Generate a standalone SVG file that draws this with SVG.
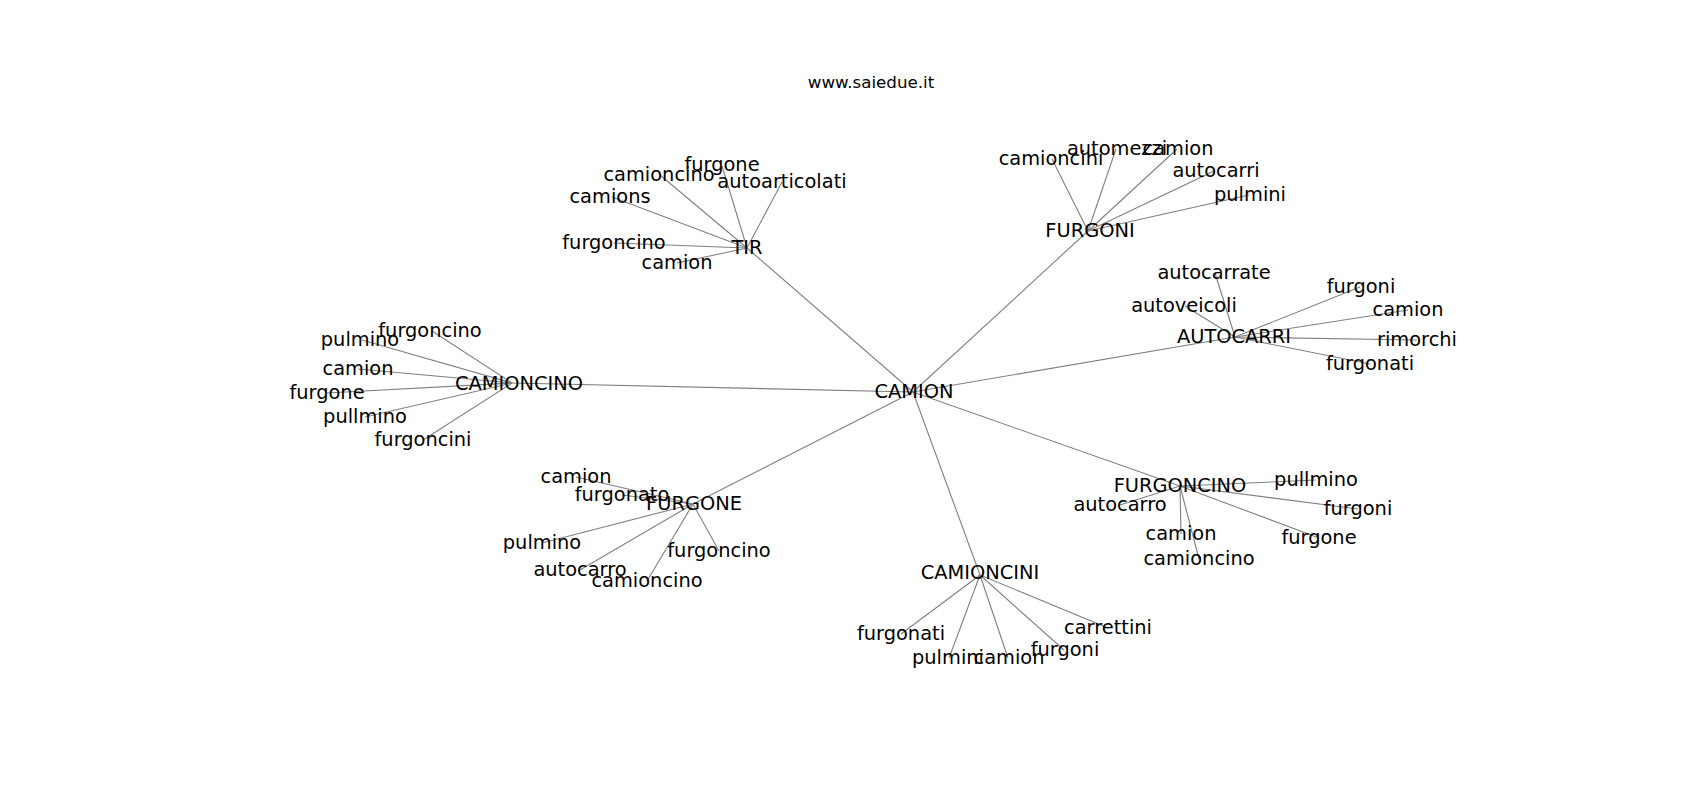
<svg xmlns="http://www.w3.org/2000/svg" width="1700" height="800" viewBox="0 0 1700 800">
<style>
text{font-family:"DejaVu Sans","Liberation Sans",sans-serif;fill:#000;text-anchor:middle}
.n text{font-size:19.4px}
.t{font-size:16.7px}
#edges line{stroke:#808080;stroke-width:1.1}
</style>
<rect width="1700" height="800" fill="#fff"/>
<text class="t" x="871" y="88">www.saiedue.it</text>
<g id="edges">
<line x1="913" y1="392" x2="747" y2="248"/>
<line x1="913" y1="392" x2="1088" y2="231"/>
<line x1="913" y1="392" x2="1235" y2="337"/>
<line x1="913" y1="392" x2="512" y2="383"/>
<line x1="913" y1="392" x2="693" y2="504"/>
<line x1="913" y1="392" x2="980" y2="575"/>
<line x1="913" y1="392" x2="1180" y2="486"/>
<line x1="747" y1="248" x2="722" y2="166"/>
<line x1="747" y1="248" x2="660" y2="175"/>
<line x1="747" y1="248" x2="782" y2="182"/>
<line x1="747" y1="248" x2="612" y2="197"/>
<line x1="747" y1="248" x2="614" y2="243"/>
<line x1="747" y1="248" x2="677" y2="263"/>
<line x1="1088" y1="231" x2="1052" y2="159"/>
<line x1="1088" y1="231" x2="1116" y2="149"/>
<line x1="1088" y1="231" x2="1177" y2="149"/>
<line x1="1088" y1="231" x2="1214" y2="171"/>
<line x1="1088" y1="231" x2="1249" y2="195"/>
<line x1="1235" y1="337" x2="1215" y2="273"/>
<line x1="1235" y1="337" x2="1185" y2="306"/>
<line x1="1235" y1="337" x2="1360" y2="287"/>
<line x1="1235" y1="337" x2="1408" y2="310"/>
<line x1="1235" y1="337" x2="1417" y2="340"/>
<line x1="1235" y1="337" x2="1370" y2="364"/>
<line x1="512" y1="383" x2="432" y2="331"/>
<line x1="512" y1="383" x2="362" y2="340"/>
<line x1="512" y1="383" x2="358" y2="369"/>
<line x1="512" y1="383" x2="327" y2="393"/>
<line x1="512" y1="383" x2="365" y2="417"/>
<line x1="512" y1="383" x2="423" y2="440"/>
<line x1="693" y1="504" x2="576" y2="477"/>
<line x1="693" y1="504" x2="622" y2="495"/>
<line x1="693" y1="504" x2="542" y2="543"/>
<line x1="693" y1="504" x2="580" y2="570"/>
<line x1="693" y1="504" x2="647" y2="581"/>
<line x1="693" y1="504" x2="719" y2="551"/>
<line x1="980" y1="575" x2="901" y2="634"/>
<line x1="980" y1="575" x2="949" y2="658"/>
<line x1="980" y1="575" x2="1008" y2="658"/>
<line x1="980" y1="575" x2="1064" y2="650"/>
<line x1="980" y1="575" x2="1108" y2="628"/>
<line x1="1180" y1="486" x2="1316" y2="480"/>
<line x1="1180" y1="486" x2="1120" y2="505"/>
<line x1="1180" y1="486" x2="1358" y2="509"/>
<line x1="1180" y1="486" x2="1181" y2="534"/>
<line x1="1180" y1="486" x2="1319" y2="538"/>
<line x1="1180" y1="486" x2="1199" y2="559"/>
</g>
<g class="n">
<g id="n-camion"><text x="914" y="398">CAMION</text></g>
<g id="n-tir"><text x="747" y="254">TIR</text></g>
<g id="n-furgoni"><text x="1090" y="237">FURGONI</text></g>
<g id="n-autocarri"><text x="1234" y="343">AUTOCARRI</text></g>
<g id="n-camioncino"><text x="519" y="390">CAMIONCINO</text></g>
<g id="n-furgone"><text x="694" y="510">FURGONE</text></g>
<g id="n-camioncini"><text x="980" y="579">CAMIONCINI</text></g>
<g id="n-furgoncino"><text x="1180" y="492">FURGONCINO</text></g>
<g id="n-tir-furgone"><text x="722" y="171">furgone</text></g>
<g id="n-tir-camioncino"><text x="659" y="181">camioncino</text></g>
<g id="n-tir-autoarticolati"><text x="782" y="188">autoarticolati</text></g>
<g id="n-tir-camions"><text x="610" y="203">camions</text></g>
<g id="n-tir-furgoncino"><text x="614" y="249">furgoncino</text></g>
<g id="n-tir-camion"><text x="677" y="269">camion</text></g>
<g id="n-fi-camioncini"><text x="1051" y="165">camioncini</text></g>
<g id="n-fi-automezzi"><text x="1117" y="155">automezzi</text></g>
<g id="n-fi-camion"><text x="1178" y="155">camion</text></g>
<g id="n-fi-autocarri"><text x="1216" y="177">autocarri</text></g>
<g id="n-fi-pulmini"><text x="1250" y="201">pulmini</text></g>
<g id="n-ac-autocarrate"><text x="1214" y="279">autocarrate</text></g>
<g id="n-ac-autoveicoli"><text x="1184" y="312">autoveicoli</text></g>
<g id="n-ac-furgoni"><text x="1361" y="293">furgoni</text></g>
<g id="n-ac-camion"><text x="1408" y="316">camion</text></g>
<g id="n-ac-rimorchi"><text x="1417" y="346">rimorchi</text></g>
<g id="n-ac-furgonati"><text x="1370" y="370">furgonati</text></g>
<g id="n-co-furgoncino"><text x="430" y="337">furgoncino</text></g>
<g id="n-co-pulmino"><text x="360" y="346">pulmino</text></g>
<g id="n-co-camion"><text x="358" y="375">camion</text></g>
<g id="n-co-furgone"><text x="327" y="399">furgone</text></g>
<g id="n-co-pullmino"><text x="365" y="423">pullmino</text></g>
<g id="n-co-furgoncini"><text x="423" y="446">furgoncini</text></g>
<g id="n-fe-camion"><text x="576" y="483">camion</text></g>
<g id="n-fe-furgonato"><text x="622" y="501">furgonato</text></g>
<g id="n-fe-pulmino"><text x="542" y="549">pulmino</text></g>
<g id="n-fe-autocarro"><text x="580" y="576">autocarro</text></g>
<g id="n-fe-camioncino"><text x="647" y="587">camioncino</text></g>
<g id="n-fe-furgoncino"><text x="719" y="557">furgoncino</text></g>
<g id="n-ci-furgonati"><text x="901" y="640">furgonati</text></g>
<g id="n-ci-pulmini"><text x="948" y="664">pulmini</text></g>
<g id="n-ci-camion"><text x="1009" y="664">camion</text></g>
<g id="n-ci-furgoni"><text x="1065" y="656">furgoni</text></g>
<g id="n-ci-carrettini"><text x="1108" y="634">carrettini</text></g>
<g id="n-fo-pullmino"><text x="1316" y="486">pullmino</text></g>
<g id="n-fo-autocarro"><text x="1120" y="511">autocarro</text></g>
<g id="n-fo-furgoni"><text x="1358" y="515">furgoni</text></g>
<g id="n-fo-camion"><text x="1181" y="540">camion</text></g>
<g id="n-fo-furgone"><text x="1319" y="544">furgone</text></g>
<g id="n-fo-camioncino"><text x="1199" y="565">camioncino</text></g>
</g>
</svg>
